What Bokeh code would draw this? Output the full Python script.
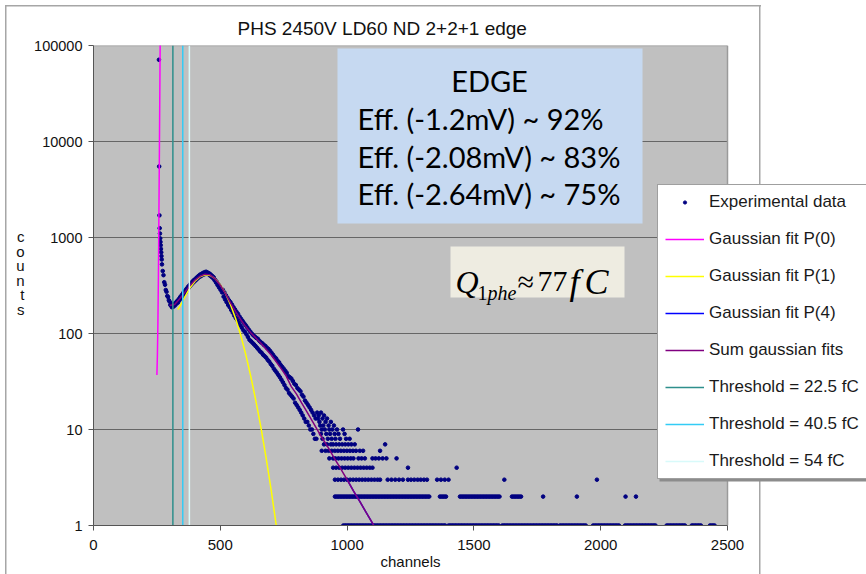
from bokeh.plotting import figure
from bokeh.models import (Label, BoxAnnotation, Legend, LegendItem, FixedTicker,
                          NumeralTickFormatter, LinearAxis, LogAxis, Title)
from bokeh.embed import file_html
from bokeh.resources import INLINE

# ---------------- data ----------------
x_ticks = [0, 500, 1000, 1500, 2000, 2500]
y_ticks = [1, 10, 100, 1000, 10000, 100000]
grid_values = [10, 100, 1000, 10000]

# pedestal spike
ped_channels = [258, 259, 260, 261, 262, 263, 264, 265, 266, 267, 268, 269]
ped_counts = [71000, 5500, 1700, 1250, 1100, 980, 900, 830, 760, 700, 640, 590]

# dense band, one value every 3 channels from 270 to 879
band_channels = list(range(270, 880, 3))
band_counts = [
    525, 448, 405, 342, 322, 284, 272, 246, 240, 222,
    215, 198, 206, 188, 199, 190, 203, 196, 210, 204,
    218, 210, 228, 222, 240, 235, 252, 246, 265, 258,
    276, 268, 290, 285, 305, 298, 318, 312, 333, 325,
    348, 338, 360, 350, 372, 362, 385, 375, 398, 388,
    410, 395, 418, 405, 428, 412, 435, 418, 440, 420,
    432, 415, 424, 402, 412, 390, 398, 378, 385, 360,
    362, 340, 345, 320, 326, 302, 310, 285, 290, 268,
    285, 242, 268, 226, 250, 212, 236, 198, 222, 188,
    212, 176, 200, 165, 188, 154, 178, 145, 168, 138,
    160, 130, 150, 122, 142, 115, 135, 108, 128, 104,
    122, 98, 116, 92, 110, 86, 105, 83, 100, 80,
    96, 77, 93, 74, 90, 71, 88, 68, 84, 65,
    81, 63, 79, 60, 76, 58, 74, 56, 71, 53,
    69, 51, 66, 48, 63, 46, 60, 43, 57, 41,
    55, 39, 52, 37, 50, 35, 47, 33, 45, 31,
    43, 29, 41, 27, 39, 26, 36, 24, 35, 23,
    34, 22, 32, 21, 30, 19, 29, 18, 27, 17,
    26, 16, 25, 15, 23, 14, 22, 13, 20, 12,
    19, 12, 18, 11, 17, 10, 16, 10, 15, 9,
    14, 8, 13, 8,
]

# sparse tail: channels at each integer count level
c15_ch = [882, 897]
c14_ch = [888, 909]
c13_ch = [885, 903, 921]
c12_ch = [891, 915, 936]
c11_ch = [894, 906, 927, 948]
c10_ch = [900, 912, 930, 942, 960, 984, 1043]
c9_ch = [897, 918, 933, 951, 966, 990]
c8_ch = [903, 924, 939, 954, 972, 996, 1010]
c7_ch = [909, 921, 936, 945, 957, 969, 981, 993, 1005, 1017, 1030, 1150]
c6_ch = [900, 915, 927, 939, 951, 963, 975, 987, 999, 1011, 1023, 1035, 1050, 1063, 1130]
c5_ch = [930, 945, 954, 966, 978, 990, 1002, 1014, 1025, 1045, 1057, 1070, 1100, 1112,
         1125, 1140, 1155, 1195]
c4_ch = [945, 957, 969, 981, 993, 1005, 1017, 1029, 1041, 1053, 1065, 1077, 1089, 1100,
         1240, 1432]
c3_ch = [952, 964, 976, 988, 1000, 1012, 1024, 1036, 1048, 1060, 1072, 1084, 1096, 1108,
         1120, 1130, 1160, 1175, 1190, 1205, 1220, 1240, 1252, 1265, 1278, 1290, 1303,
         1315, 1355, 1370, 1385, 1400, 1620, 1985]
c2_runs = [(952, 1327), (1366, 1393), (1445, 1603), (1650, 1690)]
c2_ch = [1773, 1906, 2098, 2139]
c1_runs = [(985, 1390), (1400, 1600), (1612, 1830), (1839, 1945), (1970, 2077),
           (2096, 2221), (2260, 2332), (2359, 2398), (2431, 2450)]

# fits
p0_channels = [250, 252, 254, 256, 258, 260, 262, 264, 266]
p0_counts = [37, 60, 130, 400, 1800, 9000, 50000, 250000, 1500000]
p1_channels = [332, 340, 360, 380, 400, 420, 440, 460, 480, 500, 520, 540, 560, 580,
               600, 620, 640, 660, 680, 700, 720, 730]
p1_counts = [178, 190, 240, 298, 350, 390, 409, 403, 372, 323, 263, 201, 144, 97,
             61, 36, 20, 10.6, 5.2, 2.4, 1.03, 0.7]
p4_channels = [1000, 1025, 1050, 1075, 1100, 1115]
p4_counts = [3.0, 2.3, 1.78, 1.37, 1.06, 0.9]
sum_channels = [300, 320, 340, 360, 380, 400, 420, 440, 460, 480, 500, 520, 540, 560,
                580, 600, 620, 640, 660, 680, 700, 720, 740, 760, 780, 800, 820, 840,
                860, 880, 900, 925, 950, 975, 1000, 1025, 1050, 1075, 1100, 1115]
sum_counts = [196, 200, 230, 268, 315, 360, 395, 415, 408, 370, 318, 262, 210, 170,
              140, 118, 102, 90, 79, 69, 60, 51, 43, 36, 28, 23.5, 19, 15.5,
              12.6, 10.2, 8.3, 6.5, 5.0, 3.9, 3.0, 2.3, 1.78, 1.37, 1.06, 0.9]

threshold_channels = [313, 352, 378]
threshold_labels = ["Threshold = 22.5 fC", "Threshold = 40.5 fC", "Threshold = 54 fC"]
threshold_colors = ["#2E8F8C", "#33CCF5", "#D8FAFA"]

edge_lines = ["Eff. (-1.2mV) ~ 92%", "Eff. (-2.08mV) ~ 83%", "Eff. (-2.64mV) ~ 75%"]

# ---------------- assemble experimental points ----------------
exp_ch = list(ped_channels) + list(band_channels)
exp_ct = list(ped_counts) + list(band_counts)
for lvl, chs in [(15, c15_ch), (14, c14_ch), (13, c13_ch), (12, c12_ch), (11, c11_ch),
                 (10, c10_ch), (9, c9_ch), (8, c8_ch), (7, c7_ch), (6, c6_ch),
                 (5, c5_ch), (4, c4_ch), (3, c3_ch), (2, c2_ch)]:
    exp_ch += chs
    exp_ct += [lvl] * len(chs)
for a, b in c2_runs:
    r = list(range(a, b + 1, 6))
    exp_ch += r
    exp_ct += [2] * len(r)
for a, b in c1_runs:
    r = list(range(a, b + 1, 6))
    exp_ch += r
    exp_ct += [1] * len(r)

# ---------------- layout geometry ----------------
W, H = 866, 574
FL, FT, FB = 93, 45, 525          # frame left/top/bottom (px)
PR = 727                          # right edge of plot area (x = 2500)
XMAX = 2500
PX_PER_CH = (PR - FL) / XMAX


def dx(px):
    return (px - FL) / PX_PER_CH


def dy(py):
    return 10 ** ((FB - py) * 5.0 / (FB - FT))


p = figure(width=W, height=H, x_range=(0, dx(W)), y_range=(1, 100000), y_axis_type="log",
           output_backend="svg", toolbar_location=None,
           min_border_left=FL, min_border_right=0, min_border_top=FT,
           min_border_bottom=H - FB,
           background_fill_color=None, border_fill_color=None)
p.outline_line_color = None
# outer chart border (white page with thin grey frame lines)
bc = "#A6A6A6"
p.styles = {"background": (f"linear-gradient({bc},{bc}) 5px 5px / 756px 1.5px no-repeat, "
                           f"linear-gradient({bc},{bc}) 5px 5px / 1.5px 700px no-repeat, "
                           f"linear-gradient({bc},{bc}) 759px 5px / 1.5px 700px no-repeat, "
                           "#FFFFFF")}

p.title = Title(text="PHS 2450V LD60 ND 2+2+1 edge", align="left", offset=144,
                text_font="Liberation Sans", text_font_size="19px",
                text_font_style="normal", text_color="#111111", standoff=14)

p.xaxis.ticker = FixedTicker(ticks=x_ticks, minor_ticks=[])
p.yaxis.ticker = FixedTicker(ticks=y_ticks, minor_ticks=[])
p.yaxis.formatter = NumeralTickFormatter(format="0")
p.xaxis.bounds = (0, XMAX)
p.yaxis.bounds = (1, 100000)
for ax in (p.xaxis[0], p.yaxis[0]):
    ax.axis_line_color = "#555555"
    ax.major_tick_line_color = "#555555"
    ax.major_tick_out = 5
    ax.major_tick_in = 0
    ax.minor_tick_line_color = None
    ax.major_label_text_font = "Liberation Sans"
    ax.major_label_text_color = "#111111"
p.xaxis.major_label_text_font_size = "15px"
p.yaxis.major_label_text_font_size = "14.5px"
p.xaxis.major_label_standoff = 9
p.yaxis.major_label_standoff = 6
p.xgrid.visible = False
p.ygrid.visible = False

# axis titles as extra label-only axes
xlab_pos = round(dx(410))
xlab_axis = LinearAxis(ticker=FixedTicker(ticks=[xlab_pos], minor_ticks=[]),
                       major_label_overrides={xlab_pos: "channels"},
                       axis_line_color=None, major_tick_line_color=None,
                       minor_tick_line_color=None, major_tick_out=0, major_tick_in=0,
                       major_label_standoff=0, major_label_text_font="Liberation Sans",
                       major_label_text_font_size="15px", major_label_text_color="#111111")
p.add_layout(xlab_axis, "below")
ylab_ticks = [round(dy(236 + 14.6 * i)) for i in range(6)]
ylab_axis = LogAxis(ticker=FixedTicker(ticks=ylab_ticks, minor_ticks=[]),
                    major_label_overrides={t: c for t, c in zip(ylab_ticks, "counts")},
                    axis_line_color=None, major_tick_line_color=None,
                    minor_tick_line_color=None, major_tick_out=0, major_tick_in=0,
                    major_label_standoff=7, major_label_text_font="Liberation Sans",
                    major_label_text_font_size="15px", major_label_text_color="#111111")
p.add_layout(ylab_axis, "left")

# plot area background, grid and outline
p.add_layout(BoxAnnotation(left=0, right=XMAX, bottom=1, top=100000, fill_color="#C0C0C0",
                           fill_alpha=1, line_color=None, level="image"))
p.segment(x0=[0] * len(grid_values), x1=[XMAX] * len(grid_values), y0=grid_values,
          y1=grid_values, line_color="#666666", line_width=1.2)
p.segment(x0=[0, XMAX], x1=[XMAX, XMAX], y0=[100000, 1], y1=[100000, 100000],
          line_color="#9A9A9A", line_width=1.5)

# ---------------- marks ----------------
r_exp = p.scatter(exp_ch, exp_ct, marker="circle", size=3.6, color="#000080")
r_p0 = p.line(p0_channels, p0_counts, color="#FF00FF", line_width=1.5)
r_p1 = p.line(p1_channels, p1_counts, color="#FFFF00", line_width=1.5)
r_p4 = p.line(p4_channels, p4_counts, color="#0000FF", line_width=1.5)
r_sum = p.line(sum_channels, sum_counts, color="#800080", line_width=1.5)
thr_renderers = []
for xc, col in zip(threshold_channels, threshold_colors):
    thr_renderers.append(p.segment(x0=[xc], y0=[1], x1=[xc], y1=[100000],
                                   line_color=col, line_width=1.5))

# ---------------- annotations ----------------
# EDGE box
p.add_layout(BoxAnnotation(left=dx(337), right=dx(642), top=dy(48), bottom=dy(223),
                           fill_color="#C6D9F1", fill_alpha=1, line_color=None))
p.add_layout(Label(x=dx(489), y=dy(80), text="EDGE", text_align="center",
                   text_baseline="middle", text_font="Lato", text_font_size="29px",
                   text_color="#000000"))
for i, t in enumerate(edge_lines):
    p.add_layout(Label(x=dx(357), y=dy(118 + 37.5 * i), text=t, text_align="left",
                       text_baseline="middle", text_font="Lato", text_font_size="29px",
                       text_color="#000000"))
# Q box
p.add_layout(BoxAnnotation(left=dx(450), right=dx(624), top=dy(246), bottom=dy(297),
                           fill_color="#EEECE1", fill_alpha=1, line_color=None))
serif = "Liberation Serif"
for xp, yp, t, sz, st in [(455, 281, "Q", "32px", "italic"),
                          (477, 292, "1", "20px", "normal"),
                          (487, 292, "phe", "20px", "italic"),
                          (517, 281, "\u2248", "30px", "normal"),
                          (537, 281, "77", "30px", "normal"),
                          (569, 281, "f", "36px", "italic"),
                          (584, 281, "C", "36px", "italic")]:
    p.add_layout(Label(x=dx(xp), y=dy(yp), text=t, text_align="left",
                       text_baseline="alphabetic", text_font=serif, text_font_size=sz,
                       text_font_style=st, text_color="#000000"))

# legend shadow
p.add_layout(BoxAnnotation(left=dx(659), right=dx(900), top=dy(189), bottom=dy(481),
                           fill_color="#8C8C8C", fill_alpha=1, line_color=None))

items = [LegendItem(label="Experimental data", renderers=[r_exp]),
         LegendItem(label="Gaussian fit P(0)", renderers=[r_p0]),
         LegendItem(label="Gaussian fit P(1)", renderers=[r_p1]),
         LegendItem(label="Gaussian fit P(4)", renderers=[r_p4]),
         LegendItem(label="Sum gaussian fits", renderers=[r_sum])]
for lab, r in zip(threshold_labels, thr_renderers):
    items.append(LegendItem(label=lab, renderers=[r]))
legend = Legend(items=items, location=(657 - FL, FB - 479),
                background_fill_color="white", background_fill_alpha=1,
                border_line_color="#404040", border_line_width=1,
                label_text_font="Liberation Sans", label_text_font_size="17px",
                label_text_color="#1a1a1a", glyph_width=39, glyph_height=8,
                label_height=20, spacing=17, padding=7, margin=0, label_standoff=5)
p.add_layout(legend, "center")

open("out.html", "w").write(file_html(p, INLINE))
